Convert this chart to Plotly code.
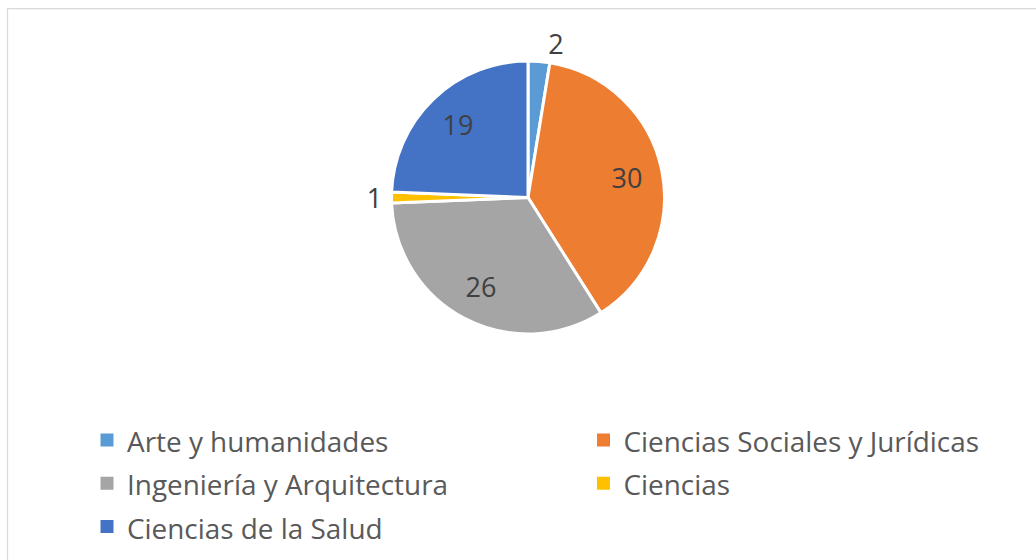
import plotly.graph_objects as go

categories = ["Arte y humanidades", "Ciencias Sociales y Jurídicas",
              "Ingeniería y Arquitectura", "Ciencias", "Ciencias de la Salud"]
values = [2, 30, 26, 1, 19]
colors = ["#5B9BD5", "#ED7D31", "#A5A5A5", "#FFC000", "#4472C4"]
text_positions = ["outside", "inside", "inside", "outside", "inside"]

W, H = 1036, 560
cx, cy, r = 528, 197.5, 136.5
FONT = "Open Sans"
LABEL_SIZE = 27
LEGEND_TEXT_SIZE = 27.9
LEFT_COL_W, RIGHT_COL_W = 451.5, 407

domain = dict(x=[(cx - r) / W, (cx + r) / W], y=[1 - (cy + r) / H, 1 - (cy - r) / H])

fig = go.Figure()

# slices
fig.add_trace(go.Pie(
    labels=categories,
    values=values,
    sort=False,
    direction="clockwise",
    rotation=0,
    marker=dict(colors=colors, line=dict(color="white", width=3)),
    textinfo="none",
    automargin=False,
    domain=domain,
    showlegend=False,
    hoverinfo="skip",
))

# value labels (transparent ring so inside labels sit further out, like the original)
fig.add_trace(go.Pie(
    labels=categories,
    values=values,
    sort=False,
    direction="clockwise",
    rotation=0,
    hole=0.48,
    marker=dict(colors=["rgba(0,0,0,0)"] * len(values), line=dict(width=0)),
    textinfo="value",
    textposition=text_positions,
    insidetextorientation="horizontal",
    textfont=dict(family=FONT, size=LABEL_SIZE, color="#404040"),
    outsidetextfont=dict(family=FONT, size=LABEL_SIZE, color="#404040"),
    insidetextfont=dict(family=FONT, size=LABEL_SIZE, color="#404040"),
    automargin=False,
    domain=domain,
    showlegend=False,
    hoverinfo="skip",
))

# legend entries (square markers), two columns
for i, (name, col) in enumerate(zip(categories, colors)):
    fig.add_trace(go.Scatter(
        x=[None], y=[None], mode="markers",
        name=f'<span style="font-size:{LEGEND_TEXT_SIZE}px">{name}</span>',
        marker=dict(symbol="square", size=13, color=col),
        legendwidth=LEFT_COL_W if i % 2 == 0 else RIGHT_COL_W,
        hoverinfo="skip",
    ))

fig.update_layout(
    width=W, height=H,
    margin=dict(l=0, r=0, t=0, b=0, pad=0, autoexpand=False),
    paper_bgcolor="white",
    plot_bgcolor="white",
    showlegend=True,
    xaxis=dict(visible=False),
    yaxis=dict(visible=False),
    legend=dict(
        orientation="h",
        x=1, xanchor="right",
        y=1 - 413.3 / H, yanchor="top",
        entrywidthmode="pixels",
        font=dict(family=FONT, size=31, color="#595959"),
        traceorder="normal",
        itemwidth=30,
        bgcolor="rgba(0,0,0,0)",
    ),
    shapes=[dict(type="rect", xref="paper", yref="paper",
                 x0=7.5 / W, x1=1.05, y0=-0.05, y1=1 - 8.5 / H,
                 line=dict(color="#D9D9D9", width=1.25), layer="below")],
)

fig.write_html(
    "out.html",
    config={"displayModeBar": False},
    post_script="document.body.style.margin='0';document.body.style.padding='0';",
)
